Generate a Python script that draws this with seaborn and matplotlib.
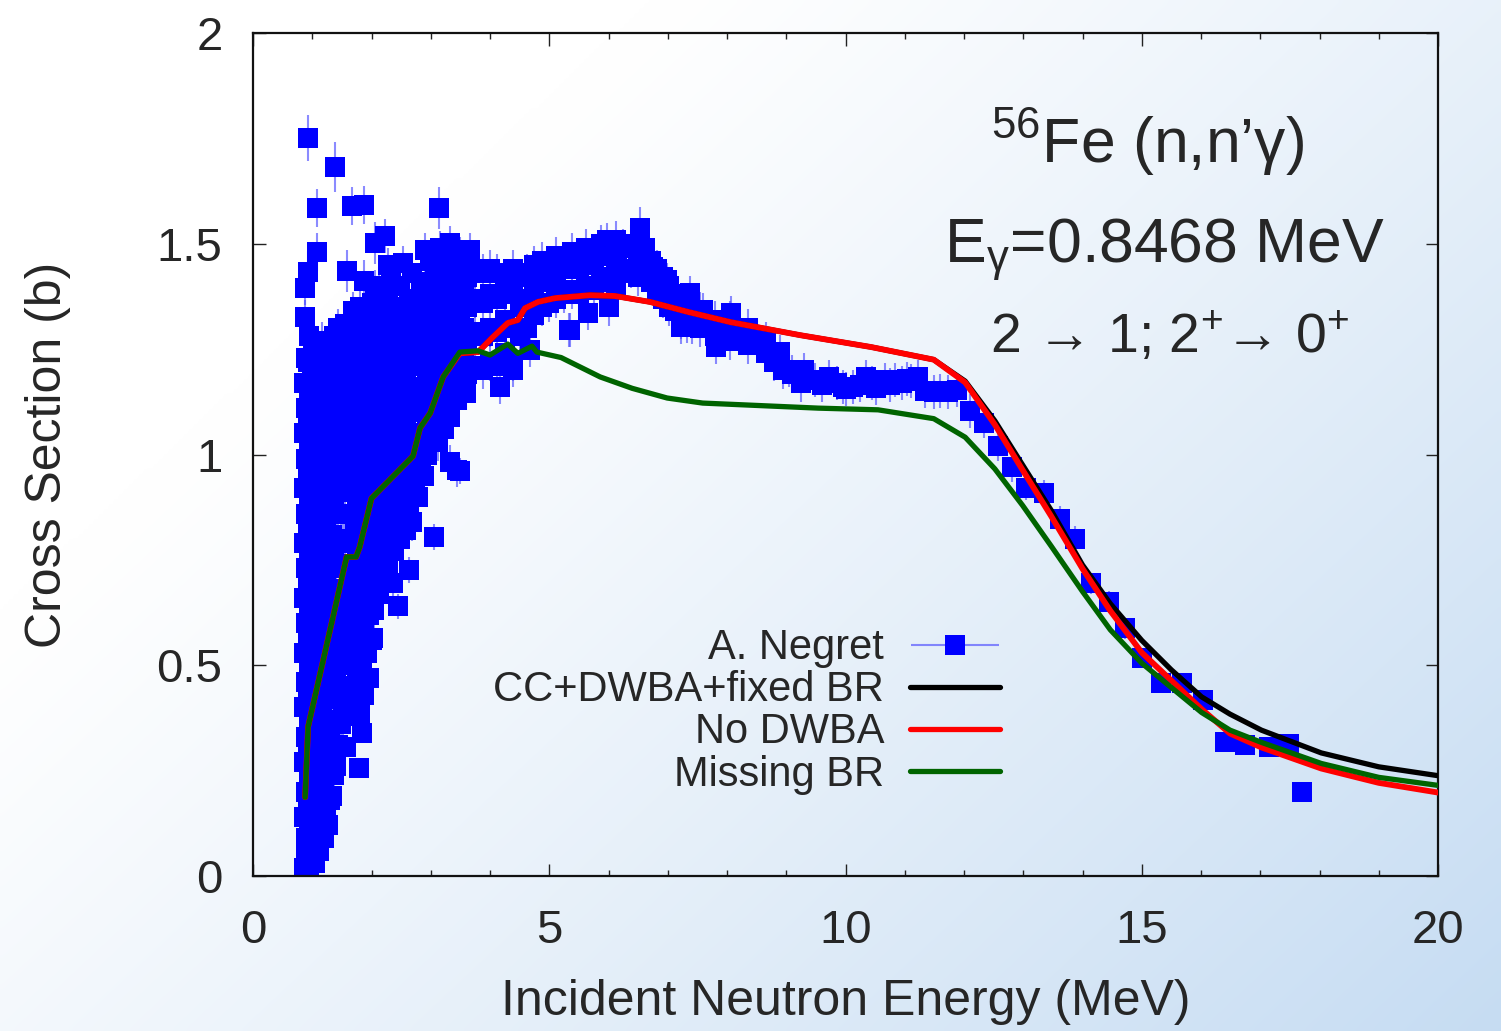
import numpy as np
import pandas as pd
import matplotlib
matplotlib.use("Agg")
import matplotlib.pyplot as plt
import seaborn as sns
from matplotlib.lines import Line2D
from matplotlib.legend_handler import HandlerErrorbar
from matplotlib.container import ErrorbarContainer

# ---------------- data ----------------
# model curves
green_x = [0.88, 0.93, 1.58, 1.74, 1.80, 2.00, 2.70, 2.82, 2.99, 3.21, 3.49, 3.80, 4.00, 4.30, 4.47,
           4.71, 4.79, 5.20, 5.86, 6.40, 6.99, 7.59, 9.54, 10.55, 11.49, 12.02, 12.52, 12.99, 13.47,
           14.00, 14.47, 15.00, 16.01, 16.49, 17.02, 18.03, 19.00, 20.00]
green_y = [0.187, 0.354, 0.757, 0.757, 0.780, 0.896, 0.996, 1.063, 1.098, 1.184, 1.243, 1.246, 1.236,
           1.262, 1.240, 1.257, 1.243, 1.230, 1.184, 1.157, 1.134, 1.122, 1.110, 1.106, 1.085, 1.041,
           0.966, 0.879, 0.783, 0.675, 0.584, 0.505, 0.388, 0.346, 0.317, 0.267, 0.234, 0.215]

red_x = [0.88, 0.93, 1.58, 1.74, 1.80, 2.00, 2.70, 2.82, 2.99, 3.21, 3.49, 3.80, 4.03, 4.30, 4.47,
         4.59, 4.81, 5.10, 5.69, 6.11, 6.70, 7.35, 8.06, 9.24, 10.43, 11.49, 12.02, 12.52, 12.99,
         13.47, 14.00, 14.47, 15.00, 16.01, 16.49, 17.02, 18.03, 19.00, 20.00]
red_y = [0.187, 0.354, 0.757, 0.757, 0.780, 0.896, 0.996, 1.063, 1.098, 1.184, 1.240, 1.243, 1.276,
         1.312, 1.319, 1.347, 1.362, 1.371, 1.378, 1.376, 1.362, 1.338, 1.314, 1.283, 1.255, 1.225,
         1.171, 1.071, 0.963, 0.854, 0.729, 0.629, 0.530, 0.396, 0.338, 0.305, 0.255, 0.221, 0.198]

black_x = [0.88, 0.93, 1.58, 1.74, 1.80, 2.00, 2.70, 2.82, 2.99, 3.21, 3.49, 3.80, 4.03, 4.30, 4.47,
           4.59, 4.81, 5.10, 5.69, 6.11, 6.70, 7.35, 8.06, 9.24, 10.43, 11.49, 12.02, 12.52, 12.99,
           13.47, 14.00, 14.47, 15.00, 15.50, 16.01, 16.49, 17.02, 18.03, 19.00, 20.00]
black_y = [0.187, 0.354, 0.757, 0.757, 0.780, 0.896, 0.996, 1.063, 1.098, 1.184, 1.240, 1.243, 1.276,
           1.312, 1.319, 1.347, 1.362, 1.371, 1.378, 1.376, 1.362, 1.338, 1.314, 1.283, 1.255, 1.225,
           1.174, 1.080, 0.975, 0.868, 0.738, 0.646, 0.559, 0.489, 0.425, 0.384, 0.346, 0.292, 0.259,
           0.238]

# dense low-energy cloud of A. Negret data: (energy, [cross sections at that energy])
cloud_columns = [
    (0.86, [0.02, 0.14, 0.27, 0.40, 0.53, 0.66, 0.79, 0.92, 1.05, 1.17]),
    (0.90, [0.05, 0.09, 0.20, 0.33, 0.46, 0.60, 0.73, 0.86, 0.99, 1.11, 1.23]),
    (0.93, [0.08, 0.18, 0.31, 0.44, 0.57, 0.70, 0.83, 0.96, 1.09, 1.22]),
    (0.95, [0.02, 0.12, 0.24, 0.37, 0.50, 0.63, 0.76, 0.89, 1.02, 1.15, 1.28]),
    (1.00, [0.04, 0.16, 0.29, 0.42, 0.56, 0.69, 0.82, 0.95, 1.08, 1.20]),
    (1.02, [0.10, 0.23, 0.36, 0.49, 0.62, 0.75, 0.88, 1.01, 1.14, 1.26]),
    (1.05, [0.03, 0.10, 0.21, 0.34, 0.47, 0.60, 0.74, 0.87, 1.00, 1.13, 1.24]),
    (1.09, [0.09, 0.20, 0.33, 0.46, 0.59, 0.72, 0.85, 0.98, 1.11, 1.22]),
    (1.12, [0.06, 0.15, 0.27, 0.39, 0.52, 0.65, 0.78, 0.91, 1.04, 1.17]),
    (1.16, [0.12, 0.26, 0.39, 0.52, 0.65, 0.78, 0.91, 1.04, 1.16, 1.27]),
    (1.19, [0.09, 0.20, 0.32, 0.45, 0.58, 0.71, 0.84, 0.97, 1.10, 1.21]),
    (1.23, [0.15, 0.30, 0.43, 0.56, 0.69, 0.82, 0.95, 1.08, 1.20]),
    (1.26, [0.12, 0.24, 0.37, 0.50, 0.63, 0.76, 0.89, 1.02, 1.14, 1.26]),
    (1.30, [0.18, 0.33, 0.47, 0.60, 0.73, 0.86, 0.99, 1.12, 1.24]),
    (1.33, [0.19, 0.30, 0.42, 0.55, 0.68, 0.81, 0.94, 1.07, 1.19]),
    (1.37, [0.24, 0.37, 0.50, 0.63, 0.76, 0.90, 1.03, 1.15, 1.28]),
    (1.40, [0.26, 0.36, 0.48, 0.60, 0.73, 0.86, 0.99, 1.11, 1.23]),
    (1.44, [0.31, 0.42, 0.54, 0.66, 0.80, 0.94, 1.07, 1.19, 1.30]),
    (1.48, [0.36, 0.45, 0.56, 0.67, 0.79, 0.91, 1.03, 1.15, 1.27]),
    (1.52, [0.38, 0.50, 0.62, 0.74, 0.86, 1.00, 1.13, 1.25]),
    (1.56, [0.39, 0.50, 0.62, 0.74, 0.86, 0.98, 1.10, 1.22, 1.31]),
    (1.60, [0.40, 0.56, 0.68, 0.80, 0.92, 1.05, 1.18, 1.29]),
    (1.64, [0.40, 0.53, 0.66, 0.79, 0.92, 1.04, 1.16, 1.28]),
    (1.68, [0.44, 0.59, 0.72, 0.86, 0.99, 1.12, 1.24, 1.34]),
    (1.72, [0.41, 0.55, 0.69, 0.83, 0.96, 1.09, 1.21, 1.32]),
    (1.76, [0.48, 0.62, 0.76, 0.90, 1.03, 1.16, 1.28]),
    (1.80, [0.42, 0.57, 0.72, 0.86, 1.00, 1.13, 1.25, 1.35]),
    (1.84, [0.50, 0.65, 0.79, 0.93, 1.06, 1.19, 1.31]),
    (1.88, [0.43, 0.58, 0.74, 0.89, 1.03, 1.16, 1.28]),
    (1.92, [0.53, 0.69, 0.83, 0.97, 1.10, 1.23, 1.34]),
    (1.96, [0.47, 0.62, 0.77, 0.91, 1.05, 1.18, 1.30]),
    (2.00, [0.56, 0.70, 0.84, 0.98, 1.12, 1.24, 1.36]),
    (2.04, [0.63, 0.75, 0.88, 1.01, 1.14, 1.26]),
    (2.08, [0.69, 0.82, 0.95, 1.08, 1.21, 1.33]),
    (2.12, [0.67, 0.79, 0.92, 1.05, 1.18, 1.30, 1.40]),
    (2.16, [0.73, 0.86, 0.99, 1.12, 1.24]),
    (2.20, [0.70, 0.82, 0.95, 1.08, 1.21, 1.33]),
    (2.24, [0.76, 0.89, 1.02, 1.15, 1.27]),
    (2.28, [0.74, 0.86, 0.99, 1.12, 1.24, 1.36]),
    (2.33, [0.80, 0.93, 1.05, 1.18, 1.30, 1.41]),
    (2.38, [0.77, 0.89, 1.02, 1.15, 1.27]),
    (2.43, [0.83, 0.96, 1.09, 1.21, 1.33]),
    (2.48, [0.80, 0.92, 1.05, 1.17, 1.29, 1.40]),
    (2.53, [0.86, 0.99, 1.11, 1.23, 1.35]),
    (2.58, [0.82, 0.95, 1.08, 1.20, 1.31]),
    (2.63, [0.88, 1.01, 1.14, 1.26, 1.37]),
    (2.68, [0.84, 0.97, 1.10, 1.22, 1.33, 1.43]),
    (2.73, [0.91, 1.04, 1.16, 1.28]),
    (2.78, [0.90, 1.01, 1.13, 1.24, 1.35]),
    (2.83, [0.99, 1.10, 1.21, 1.31, 1.41]),
    (2.88, [0.95, 1.05, 1.16, 1.27, 1.37]),
    (2.93, [1.00, 1.09, 1.19, 1.29, 1.38]),
    (2.98, [1.04, 1.13, 1.22, 1.31, 1.40, 1.46]),
    (3.03, [1.10, 1.19, 1.28, 1.37]),
    (3.08, [1.07, 1.16, 1.25, 1.34, 1.42]),
    (3.13, [1.03, 1.13, 1.22, 1.31, 1.40]),
    (3.18, [1.10, 1.18, 1.27, 1.36, 1.44]),
    (3.23, [1.06, 1.16, 1.25, 1.33, 1.41]),
    (3.28, [1.13, 1.21, 1.29, 1.37, 1.45]),
    (3.33, [1.09, 1.18, 1.27, 1.35, 1.43]),
    (3.38, [1.15, 1.23, 1.31, 1.39]),
    (3.44, [1.13, 1.21, 1.29, 1.37, 1.44]),
    (3.50, [1.17, 1.25, 1.33, 1.41, 1.47]),
    (3.56, [1.22, 1.30, 1.38]),
    (3.62, [1.19, 1.27, 1.35, 1.42]),
    (3.75, [1.21, 1.29, 1.37, 1.44]),
    (3.88, [1.20, 1.28, 1.36, 1.43]),
    (4.00, [1.22, 1.30, 1.38, 1.44]),
    (4.12, [1.21, 1.29, 1.37, 1.43]),
    (4.25, [1.24, 1.32, 1.40]),
    (4.38, [1.22, 1.30, 1.38, 1.44]),
    (4.50, [1.28, 1.35, 1.42]),
    (4.62, [1.30, 1.37, 1.43]),
    (4.75, [1.33, 1.39, 1.45]),
    (4.88, [1.35, 1.41, 1.46]),
    (5.00, [1.36, 1.42]),
    (5.12, [1.37, 1.43, 1.47]),
    (5.25, [1.38, 1.44]),
    (5.38, [1.39, 1.45, 1.48]),
    (5.50, [1.38, 1.44]),
    (5.62, [1.40, 1.46, 1.49]),
    (5.75, [1.39, 1.45]),
    (5.88, [1.41, 1.47, 1.50]),
    (6.00, [1.35, 1.42, 1.48]),
    (6.12, [1.40, 1.46, 1.51]),
    (6.25, [1.43, 1.49]),
    (6.38, [1.44, 1.50]),
    (6.50, [1.42, 1.48]),
    (6.62, [1.44, 1.49]),
    (6.72, [1.41, 1.46]),
    (6.82, [1.39, 1.44]),
    (6.92, [1.37, 1.42]),
    (7.02, [1.35, 1.40]),
    (7.12, [1.34, 1.38]),
    (7.22, [1.32, 1.36]),
    (7.32, [1.31, 1.35]),
    (7.45, [1.33]),
    (7.55, [1.30, 1.34]),
    (7.68, [1.31]),
    (7.80, [1.28, 1.32]),
    (7.92, [1.30]),
    (8.05, [1.27, 1.32]),
    (8.20, [1.29]),
    (8.35, [1.26, 1.30]),
    (8.50, [1.28]),
    (8.65, [1.24, 1.27]),
    (8.80, [1.22]),
    (8.95, [1.20]),
    (9.10, [1.19]),
    (9.25, [1.17]),
]
cloud_err = 0.045

# individually resolved A. Negret points: energy, cross section, y error, x error
pts_x = [0.93, 1.38, 1.08, 1.67, 1.87, 3.14, 1.08, 0.93, 1.59, 0.88, 2.23, 2.06, 0.88, 1.87, 2.06,
         2.28, 2.53, 2.90, 3.16, 3.33, 3.66, 3.16, 2.90, 1.87, 1.55, 1.01, 2.26, 2.26, 3.04, 3.60,
         3.58, 4.17, 4.39, 4.68, 4.64, 5.35, 5.65, 5.47, 5.97, 6.14, 6.53, 3.44, 3.32, 3.05, 2.63,
         2.36, 2.45, 3.49, 2.03, 1.84, 1.79, 1.57, 1.80,
         6.75, 6.99, 7.38, 7.59, 8.06, 7.82, 7.41, 8.24, 8.47, 8.77, 8.89, 9.04, 9.30, 9.48, 9.60,
         9.72, 9.85, 9.95, 10.00, 10.13, 10.25, 10.34, 10.45, 10.52, 10.67, 10.75, 10.84, 10.95,
         11.04, 11.10, 11.22, 11.35, 11.49, 11.60, 11.73, 11.88, 12.10, 12.34, 12.57, 12.81, 13.05,
         13.35, 13.62, 13.87, 14.14, 14.44, 14.71, 15.00, 15.32, 15.68, 16.04, 16.40, 16.75, 17.14,
         17.49, 17.70, 6.87, 7.17, 7.23, 5.10, 5.33]
pts_y = [1.751, 1.682, 1.585, 1.590, 1.592, 1.585, 1.480, 1.433, 1.435, 1.395, 1.518, 1.502, 1.326,
         1.412, 1.397, 1.450, 1.454, 1.485, 1.490, 1.502, 1.485, 1.445, 1.395, 1.329, 1.288, 1.265,
         1.336, 1.374, 1.362, 1.146, 1.146, 1.160, 1.200, 1.248, 1.421, 1.295, 1.336, 1.469, 1.509,
         1.478, 1.537, 0.963, 0.982, 0.804, 0.726, 0.695, 0.640, 0.961, 0.565, 0.339, 0.256, 0.306,
         0.387,
         1.445, 1.414, 1.383, 1.343, 1.336, 1.255, 1.302, 1.283, 1.279, 1.240, 1.243, 1.200, 1.200,
         1.177, 1.165, 1.184, 1.170, 1.160, 1.155, 1.160, 1.165, 1.184, 1.170, 1.158, 1.177, 1.165,
         1.177, 1.170, 1.179, 1.175, 1.184, 1.150, 1.148, 1.150, 1.148, 1.153, 1.103, 1.075, 1.020,
         0.970, 0.921, 0.909, 0.847, 0.800, 0.695, 0.650, 0.588, 0.517, 0.459, 0.459, 0.418, 0.318,
         0.311, 0.306, 0.313, 0.200, 1.390, 1.343, 1.302, 1.414, 1.295]
pts_yerr = [0.055, 0.060, 0.045, 0.045, 0.045, 0.050, 0.045, 0.050, 0.050, 0.040, 0.040, 0.050,
            0.040, 0.050, 0.040, 0.040, 0.040, 0.040, 0.040, 0.040, 0.040, 0.040, 0.040, 0.040,
            0.040, 0.040, 0.040, 0.040, 0.040, 0.040, 0.030, 0.040, 0.040, 0.040, 0.040, 0.040,
            0.040, 0.040, 0.040, 0.040, 0.050, 0.040, 0.040, 0.030, 0.030, 0.030, 0.030, 0.030,
            0.030, 0.020, 0.020, 0.020, 0.020,
            0.040, 0.040, 0.040, 0.040, 0.040, 0.040, 0.040, 0.040, 0.040, 0.040, 0.040, 0.040,
            0.040, 0.040, 0.040, 0.040, 0.040, 0.040, 0.040, 0.040, 0.040, 0.040, 0.040, 0.040,
            0.040, 0.040, 0.040, 0.040, 0.040, 0.040, 0.040, 0.040, 0.040, 0.040, 0.040, 0.040,
            0.040, 0.035, 0.035, 0.035, 0.030, 0.030, 0.030, 0.030, 0.025, 0.025, 0.025, 0.020,
            0.020, 0.020, 0.020, 0.015, 0.015, 0.015, 0.015, 0.000, 0.040, 0.040, 0.040, 0.040,
            0.040]
pts_xerr = [0.0] * 102 + [0.10, 0.10, 0.10, 0.17, 0.17, 0.17, 0.17, 0.0, 0.0, 0.0, 0.0, 0.0, 0.0]

labels = ["A. Negret", "CC+DWBA+fixed BR", "No DWBA", "Missing BR"]
xticks = [0, 5, 10, 15, 20]
yticks = [0, 0.5, 1, 1.5, 2]
ytick_labels = ["0", "0.5", "1", "1.5", "2"]

# ---------------- assemble tables ----------------
cx = [c[0] for c in cloud_columns for _ in c[1]]
cy = [v for c in cloud_columns for v in c[1]]
data = pd.DataFrame({
    "E": cx + pts_x,
    "xs": cy + pts_y,
    "yerr": [cloud_err] * len(cx) + pts_yerr,
    "xerr": [0.0] * len(cx) + pts_xerr[:len(pts_x)],
})
curves = pd.concat([
    pd.DataFrame({"E": black_x, "xs": black_y, "model": labels[1]}),
    pd.DataFrame({"E": red_x, "xs": red_y, "model": labels[2]}),
    pd.DataFrame({"E": green_x, "xs": green_y, "model": labels[3]}),
])

# ---------------- style ----------------
sns.set_theme(style="ticks")
plt.rcParams["font.family"] = ["Liberation Sans", "DejaVu Sans"]
plt.rcParams["mathtext.fontset"] = "custom"
plt.rcParams["mathtext.rm"] = "Liberation Sans"
plt.rcParams["mathtext.it"] = "Liberation Sans:italic"
plt.rcParams["mathtext.bf"] = "Liberation Sans:bold"

W, H = 1501, 1031
fig = plt.figure(figsize=(W / 100, H / 100), dpi=100)

# background gradient (white top-left -> light blue bottom-right)
bg = fig.add_axes([0, 0, 1, 1], zorder=-10)
u = np.linspace(0, 1, 300)[None, :]
v = np.linspace(1, 0, 206)[:, None]
t = np.clip(0.75 * u + 0.55 * (1 - v) - 0.33, 0, 1) ** 1.1
c0 = np.array([1.0, 1.0, 1.0])
c1 = np.array([196, 219, 242]) / 255.0
img = c0[None, None, :] * (1 - t[..., None]) + c1[None, None, :] * t[..., None]
bg.imshow(img, aspect="auto", extent=[0, 1, 0, 1], interpolation="bicubic")
bg.axis("off")

ax = fig.add_axes([253 / W, 1 - 876 / H, (1438 - 253) / W, (876 - 33) / H])
ax.patch.set_alpha(0)

blue = "#0000ff"
ebar = (0.3, 0.3, 1.0, 0.65)
MS = 14
ax.errorbar(data["E"], data["xs"], yerr=data["yerr"], xerr=data["xerr"], fmt="s", ms=MS,
            mfc=blue, mec=blue, mew=0, ecolor=ebar, elinewidth=1.5, capsize=8, capthick=1.5,
            zorder=2)

line_colors = {labels[1]: "#000000", labels[2]: "#ff0000", labels[3]: "#006400"}
line_widths = {labels[1]: 3.8, labels[2]: 4.2, labels[3]: 3.8}
for z, name in enumerate([labels[1], labels[2], labels[3]]):
    sub = curves[curves["model"] == name]
    sns.lineplot(data=sub, x="E", y="xs", ax=ax, color=line_colors[name],
                 linewidth=line_widths[name], sort=False, estimator=None, zorder=3 + z,
                 legend=False)

ax.set_xlim(0, 20)
ax.set_ylim(0, 2)
ax.set_xticks(xticks)
ax.set_xticks(np.arange(0, 21, 1), minor=True)
ax.set_yticks(yticks)
ax.set_yticklabels(ytick_labels)
ax.tick_params(which="both", direction="in", top=True, right=True, width=1.0, color="#222222")
ax.tick_params(which="major", length=9)
ax.tick_params(which="minor", length=4.5)
ax.tick_params(axis="x", which="major", labelsize=34, pad=24)
ax.tick_params(axis="y", which="major", labelsize=34, pad=22)
for s in ax.spines.values():
    s.set_linewidth(1.6)
    s.set_color("#111111")

ax.set_xlabel("Incident Neutron Energy (MeV)", fontsize=36)
ax.set_ylabel("Cross Section (b)", fontsize=36)
ax.xaxis.set_label_coords(0.5, -0.122)
ax.yaxis.set_label_coords(-0.154, 0.5)

# annotations
ax.text(0.755, 0.846, r"$^{56}$Fe (n,n’γ)", transform=ax.transAxes, ha="center",
        va="baseline", fontsize=45)
ax.text(0.769, 0.728, r"E$_{\mathrm{γ}}$=0.8468 MeV", transform=ax.transAxes, ha="center",
        va="baseline", fontsize=45)
ax.text(0.774, 0.620, r"2 → 1; 2$^{+}$→ 0$^{+}$", transform=ax.transAxes, ha="center",
        va="baseline", fontsize=40)

# legend
h_data = ax.errorbar([np.nan], [np.nan], xerr=[1.0], fmt="s", ms=MS, mfc=blue, mec=blue, mew=0,
                     ecolor=ebar, elinewidth=1.5, capsize=9, capthick=1.5)
handles = [h_data,
           Line2D([], [], color="#000000", lw=3.8),
           Line2D([], [], color="#ff0000", lw=3.8),
           Line2D([], [], color="#006400", lw=3.8)]
ax.legend(handles, labels, loc="center right", bbox_to_anchor=(0.666, 0.310),
          bbox_transform=fig.transFigure, frameon=False, markerfirst=False, fontsize=30,
          handlelength=2.15, handletextpad=0.62, labelspacing=0.05, borderpad=0,
          borderaxespad=0, handler_map={ErrorbarContainer: HandlerErrorbar(xerr_size=1.05)})

fig.savefig("out.png", dpi=100)
